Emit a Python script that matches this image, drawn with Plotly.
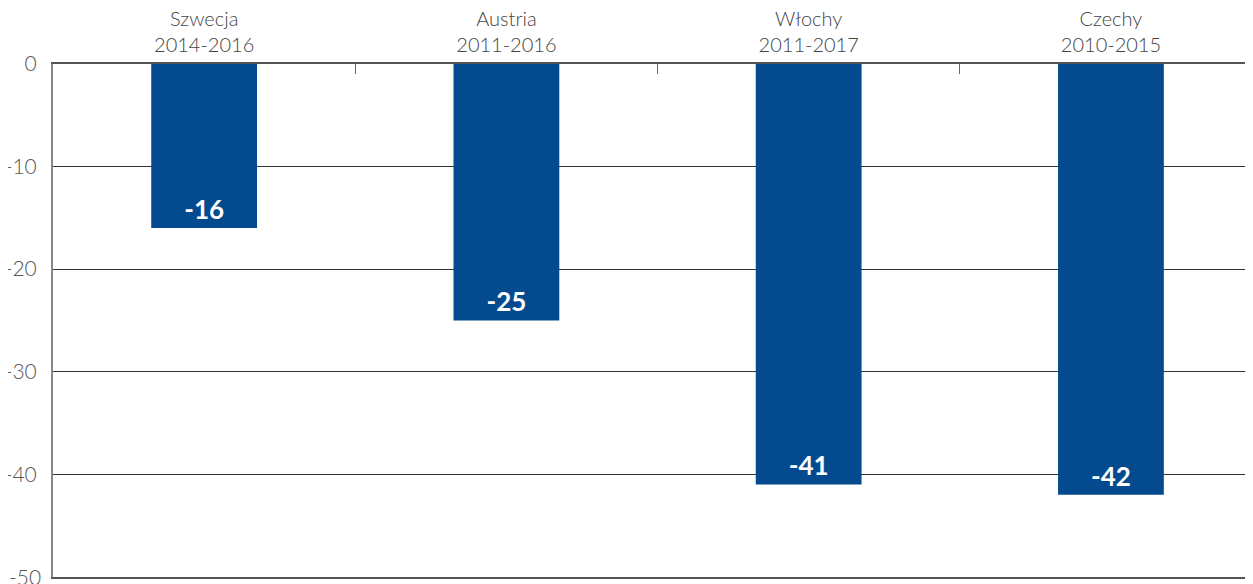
import plotly.graph_objects as go

# dane
categories = ["Szwecja<br>2014-2016", "Austria<br>2011-2016", "Włochy<br>2011-2017", "Czechy<br>2010-2015"]
values = [-16, -25, -41, -42]
labels = ["-16", "-25", "-41", "-42"]
y_ticks = [0, -10, -20, -30, -40]
y_tick_text = ["0", "-10", "-20", "-30", "-40"]
y_min, y_min_text = -50, "-50"

BAR_COLOR = "#034A8E"
FONT = "Lato, 'Open Sans', sans-serif"
TICK_FONT = dict(size=21, color="#555555", family=FONT, weight=300)

fig = go.Figure(go.Bar(
    x=categories,
    y=values,
    text=labels,
    textposition="inside",
    insidetextanchor="end",
    textfont=dict(size=26, color="white", family=FONT, weight="bold"),
    marker_color=BAR_COLOR,
    marker_line_width=0,
    width=0.35,
    showlegend=False,
    hoverinfo="skip",
))

# etykieta -50 na samym dole (plotly ją chowa), więc jako adnotacja
fig.add_annotation(
    x=0, xref="paper", xshift=-10, xanchor="right",
    y=y_min, yref="y", yanchor="middle",
    text=y_min_text, showarrow=False, font=TICK_FONT,
)

# strona ma 8px marginesu body, więc wykres jest nieco mniejszy
fig.update_layout(
    width=1245, height=576,
    margin=dict(l=45, r=0, t=56, b=7),
    paper_bgcolor="white", plot_bgcolor="white",
    font=dict(family=FONT, color="#555555"),
    xaxis=dict(
        type="category",
        side="top",
        range=[-0.5, 3.47],
        automargin=False,
        tickfont=dict(size=20, color="#444444", family=FONT, weight=300),
        showgrid=False, zeroline=False,
        showline=True, linecolor="#555555", linewidth=2,
        mirror=True,
        ticks="inside", ticklen=10, tickcolor="#666666", tickwidth=1,
        tickson="boundaries",
        ticklabelstandoff=2,
    ),
    yaxis=dict(
        range=[y_min - 0.02, 0],
        automargin=False,
        tickmode="array",
        tickvals=y_ticks,
        ticktext=y_tick_text,
        tickfont=TICK_FONT,
        showgrid=True, gridcolor="#333333", gridwidth=1,
        zeroline=False,
        showline=True, linecolor="#888888", linewidth=2,
        ticks="", ticklabelstandoff=10,
    ),
)

fig.write_html("out.html")
